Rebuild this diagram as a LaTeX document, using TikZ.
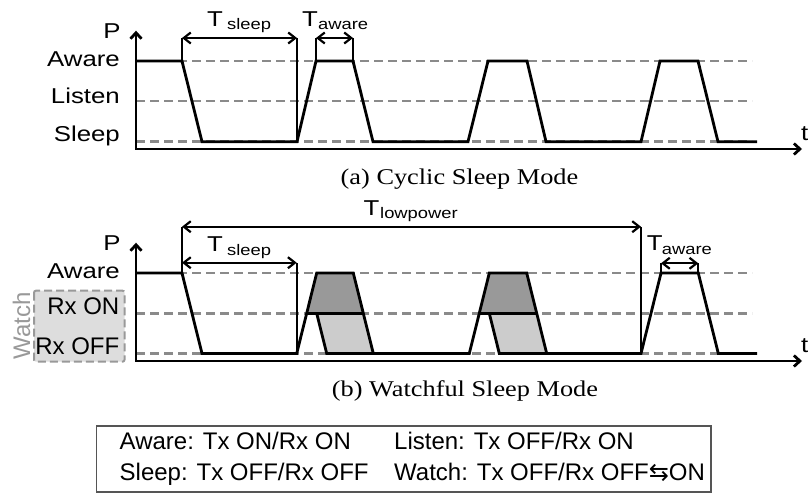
\documentclass[tikz,border=0pt]{standalone}
\usepackage{fontspec}
\setmainfont{Liberation Sans}
\newfontfamily\labf{Liberation Sans}[FakeStretch=1.2]
\newfontfamily\capf{Liberation Serif}[FakeStretch=1.17]
\newfontfamily\symf{DejaVu Sans}
\usetikzlibrary{arrows.meta}
\definecolor{dashgray}{HTML}{8A8A8A}
\definecolor{darkfill}{HTML}{999999}
\definecolor{lightfill}{HTML}{CCCCCC}
\definecolor{watchfill}{HTML}{DDDDDD}
\definecolor{watchline}{HTML}{999999}
\definecolor{boxline}{HTML}{555555}
\begin{document}
\begin{tikzpicture}[x=1pt,y=-1pt,
  lvl/.style={draw=dashgray, line width=2.6pt, dash pattern=on 9pt off 5pt},
  sig/.style={draw=black, line width=2.8pt},
  axisline/.style={draw=black, line width=2.8pt},
  tickline/.style={draw=black, line width=2.2pt},
  span/.style={draw=black, line width=2.2pt, {Straight Barb[length=7pt,width=11pt]}-{Straight Barb[length=7pt,width=11pt]}},
  lab/.style={inner sep=0pt, font=\labf\fontsize{21.5}{21.5}\selectfont},
  sub/.style={inner sep=0pt, anchor=base west, font=\labf\fontsize{15.3}{15.3}\selectfont},
  capt/.style={inner sep=0pt, anchor=base, font=\capf\fontsize{22.5}{22.5}\selectfont},
  leg/.style={inner sep=0pt, anchor=base west, font=\fontsize{24}{24}\selectfont},
  rx/.style={inner sep=0pt, anchor=base east, font=\fontsize{24}{24}\selectfont}
]
\useasboundingbox (0,0) rectangle (808,495);

% ================= (a) Cyclic Sleep Mode =================
\foreach \yy in {61,101,141.7} \draw[lvl] (136,\yy) -- (752,\yy);
\draw[axisline, {Straight Barb[length=6pt,width=11pt]}-{Straight Barb[length=6pt,width=11pt]}] (136,30.7) -- (136,149) -- (802,149);
\draw[sig] (136,61) -- (182,61) -- (202,141.7) -- (297,141.7) -- (316,61) -- (353,61) -- (373,141.7) -- (468,141.7) -- (488,61) -- (527,61) -- (546,141.7) -- (641,141.7) -- (660,61) -- (698,61) -- (718,141.7) -- (757,141.7);

\coordinate (as1) at (182,38);
\coordinate (as2) at (297,38);
\coordinate (aa1) at (316,38);
\coordinate (aa2) at (353,38);
\draw[tickline] (182,61) -- (as1);
\draw[tickline] (297,141.7) -- (as2);
\draw[tickline] (316,61) -- (aa1);
\draw[tickline] (353,61) -- (aa2);
\draw[span] (as1) -- (as2);
\draw[span] (aa1) -- (aa2);

\node[lab, anchor=base west] (aT1) at (207,26.7) {T};
\node[sub] (aS1) at (227,30) {sleep};
\node[lab, anchor=base west] (aT2) at (302,26.7) {T};
\node[sub] (aS2) at (318,30) {aware};

\node[lab, anchor=base] (aP) at (112,38.3) {P};
\node[lab, anchor=base east] (aAw) at (120,66.7) {Aware};
\node[lab, anchor=base east] (aLi) at (120,103.3) {Listen};
\node[lab, anchor=base east] (aSl) at (120,141.7) {Sleep};
\node[lab, anchor=base west] (at) at (801,140) {t};

\node[capt] (capa) at (459.5,184.5) {(a) Cyclic Sleep Mode};

% ================= (b) Watchful Sleep Mode =================
\draw[draw=watchline, fill=watchfill, line width=2pt, dash pattern=on 8pt off 4pt, rounded corners=2pt] (34,290.7) rectangle (124.5,361.7);
\node[rotate=90, inner sep=0pt, anchor=base, text=watchline, font=\fontsize{24}{24}\selectfont] (watch) at (30,326) {Watch};
\node[rx] (rxon) at (119.5,314) {Rx ON};
\node[rx] (rxoff) at (119.5,354) {Rx OFF};

\foreach \yy in {273,313.3,353.5} \draw[lvl] (136,\yy) -- (752,\yy);
\draw[axisline, {Straight Barb[length=6pt,width=11pt]}-{Straight Barb[length=6pt,width=11pt]}] (136,242.7) -- (136,361) -- (802,361);

\fill[darkfill] (306.7,313.3) -- (316.7,273) -- (353.3,273) -- (363.3,313.3) -- cycle;
\fill[lightfill] (316.7,313.3) -- (363.3,313.3) -- (373.3,353.5) -- (326.7,353.5) -- cycle;
\fill[darkfill] (479.3,313.3) -- (489.3,273) -- (526.7,273) -- (536.7,313.3) -- cycle;
\fill[lightfill] (489.3,313.3) -- (536.7,313.3) -- (546.7,353.5) -- (499.3,353.5) -- cycle;

\draw[sig] (136,273) -- (182,273) -- (202,353.5) -- (296.7,353.5) -- (316.7,273) -- (353.3,273) -- (373.3,353.5);
\draw[sig] (306.7,313.3) -- (363.3,313.3);
\draw[sig] (316.7,313.3) -- (326.7,353.5) -- (469.3,353.5) -- (489.3,273) -- (526.7,273) -- (546.7,353.5);
\draw[sig] (479.3,313.3) -- (536.7,313.3);
\draw[sig] (489.3,313.3) -- (499.3,353.5) -- (641,353.5) -- (661,273) -- (698.3,273) -- (718.3,353.5) -- (757,353.5);

\coordinate (bl1) at (182,226.7);
\coordinate (bl2) at (641,226.7);
\coordinate (bs1) at (182,262.7);
\coordinate (bs2) at (296.7,262.7);
\coordinate (ba1) at (661,263.3);
\coordinate (ba2) at (698.3,263.3);
\draw[tickline] (182,273) -- (bl1);
\draw[tickline] (641,353.5) -- (bl2);
\draw[tickline] (296.7,353.5) -- (bs2);
\draw[tickline] (661,273) -- (ba1);
\draw[tickline] (698.3,273) -- (ba2);
\draw[span] (bl1) -- (bl2);
\draw[span] (bs1) -- (bs2);
\draw[span] (ba1) -- (ba2);

\node[lab, anchor=base west] (bT0) at (363.3,215.5) {T};
\node[sub] (bS0) at (380,218.5) {lowpower};
\node[lab, anchor=base west] (bT1) at (207,251.7) {T};
\node[sub] (bS1) at (227,255) {sleep};
\node[lab, anchor=base west] (bT2) at (646.7,250) {T};
\node[sub] (bS2) at (661.7,254) {aware};

\node[lab, anchor=base] (bP) at (112,250.3) {P};
\node[lab, anchor=base east] (bAw) at (120,278.5) {Aware};
\node[lab, anchor=base west] (bt) at (801,352) {t};

\node[capt] (capb) at (465,396.7) {(b) Watchful Sleep Mode};

% ================= legend =================
\draw[draw=boxline, line width=1.8pt] (96.5,426) rectangle (711,491.7);
\node[leg] (l1) at (119.5,449.5) {Aware: Tx ON/Rx ON};
\node[leg] (l2) at (394,449.5) {Listen: Tx OFF/Rx ON};
\node[leg] (l3) at (119.5,480) {Sleep: Tx OFF/Rx OFF};
\node[leg] (l4) at (394,480) {Watch: Tx OFF/Rx OFF{\symf ⇆}ON};
\end{tikzpicture}
\end{document}
